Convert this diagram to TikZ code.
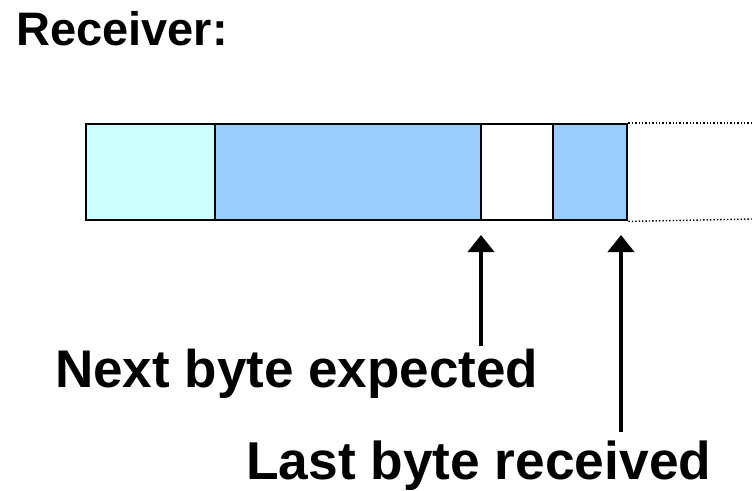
\documentclass[tikz,border=0pt]{standalone}
\usepackage{fontspec}
\setmainfont{Liberation Sans}
\usetikzlibrary{arrows.meta}
\definecolor{ackcyan}{HTML}{CCFFFF}
\definecolor{rcvblue}{HTML}{99CCFF}
\tikzset{
  cell/.style={draw=black, line width=2.4pt, minimum height=96pt, inner sep=0pt, anchor=north west},
  label/.style={font=\fontsize{53}{60}\selectfont\bfseries, inner sep=0pt, anchor=base west},
  pointer/.style={line width=4pt, -{Triangle[width=26pt,length=17pt]}},
  edge/.style={line width=1.4pt, dotted}
}
\begin{document}
\begin{tikzpicture}[x=1pt,y=-1pt]
  \useasboundingbox (0,0) rectangle (752,490);
  % title
  \node[label, font=\fontsize{47}{52}\selectfont\bfseries] (title) at (16,45) {Receiver:};
  % receive buffer
  \node[cell, fill=ackcyan, minimum width=129pt] (c1) at (85,123) {};
  \node[cell, fill=rcvblue, minimum width=266pt] (c2) at (214,123) {};
  \node[cell, fill=white, minimum width=72pt] (c3) at (480,123) {};
  \node[cell, fill=rcvblue, minimum width=74pt] (c4) at (552,123) {};
  % open end of the buffer
  \coordinate (endtop) at (752,123);
  \coordinate (endbot) at (752,219);
  \draw[edge] (c4.north east) -- (endtop);
  \draw[edge] (c4.south east) -- (endbot);
  % labels and pointers
  \node[label] (next) at (55,387) {Next byte expected};
  \node[label, font=\fontsize{53.3}{60}\selectfont\bfseries] (last) at (246,479) {Last byte received};
  \coordinate (nexttail) at (481,346);
  \coordinate (nexttip) at (481,235);
  \coordinate (lasttail) at (621,432);
  \coordinate (lasttip) at (621,235);
  \draw[pointer] (nexttail) -- (nexttip);
  \draw[pointer] (lasttail) -- (lasttip);
\end{tikzpicture}
\end{document}
